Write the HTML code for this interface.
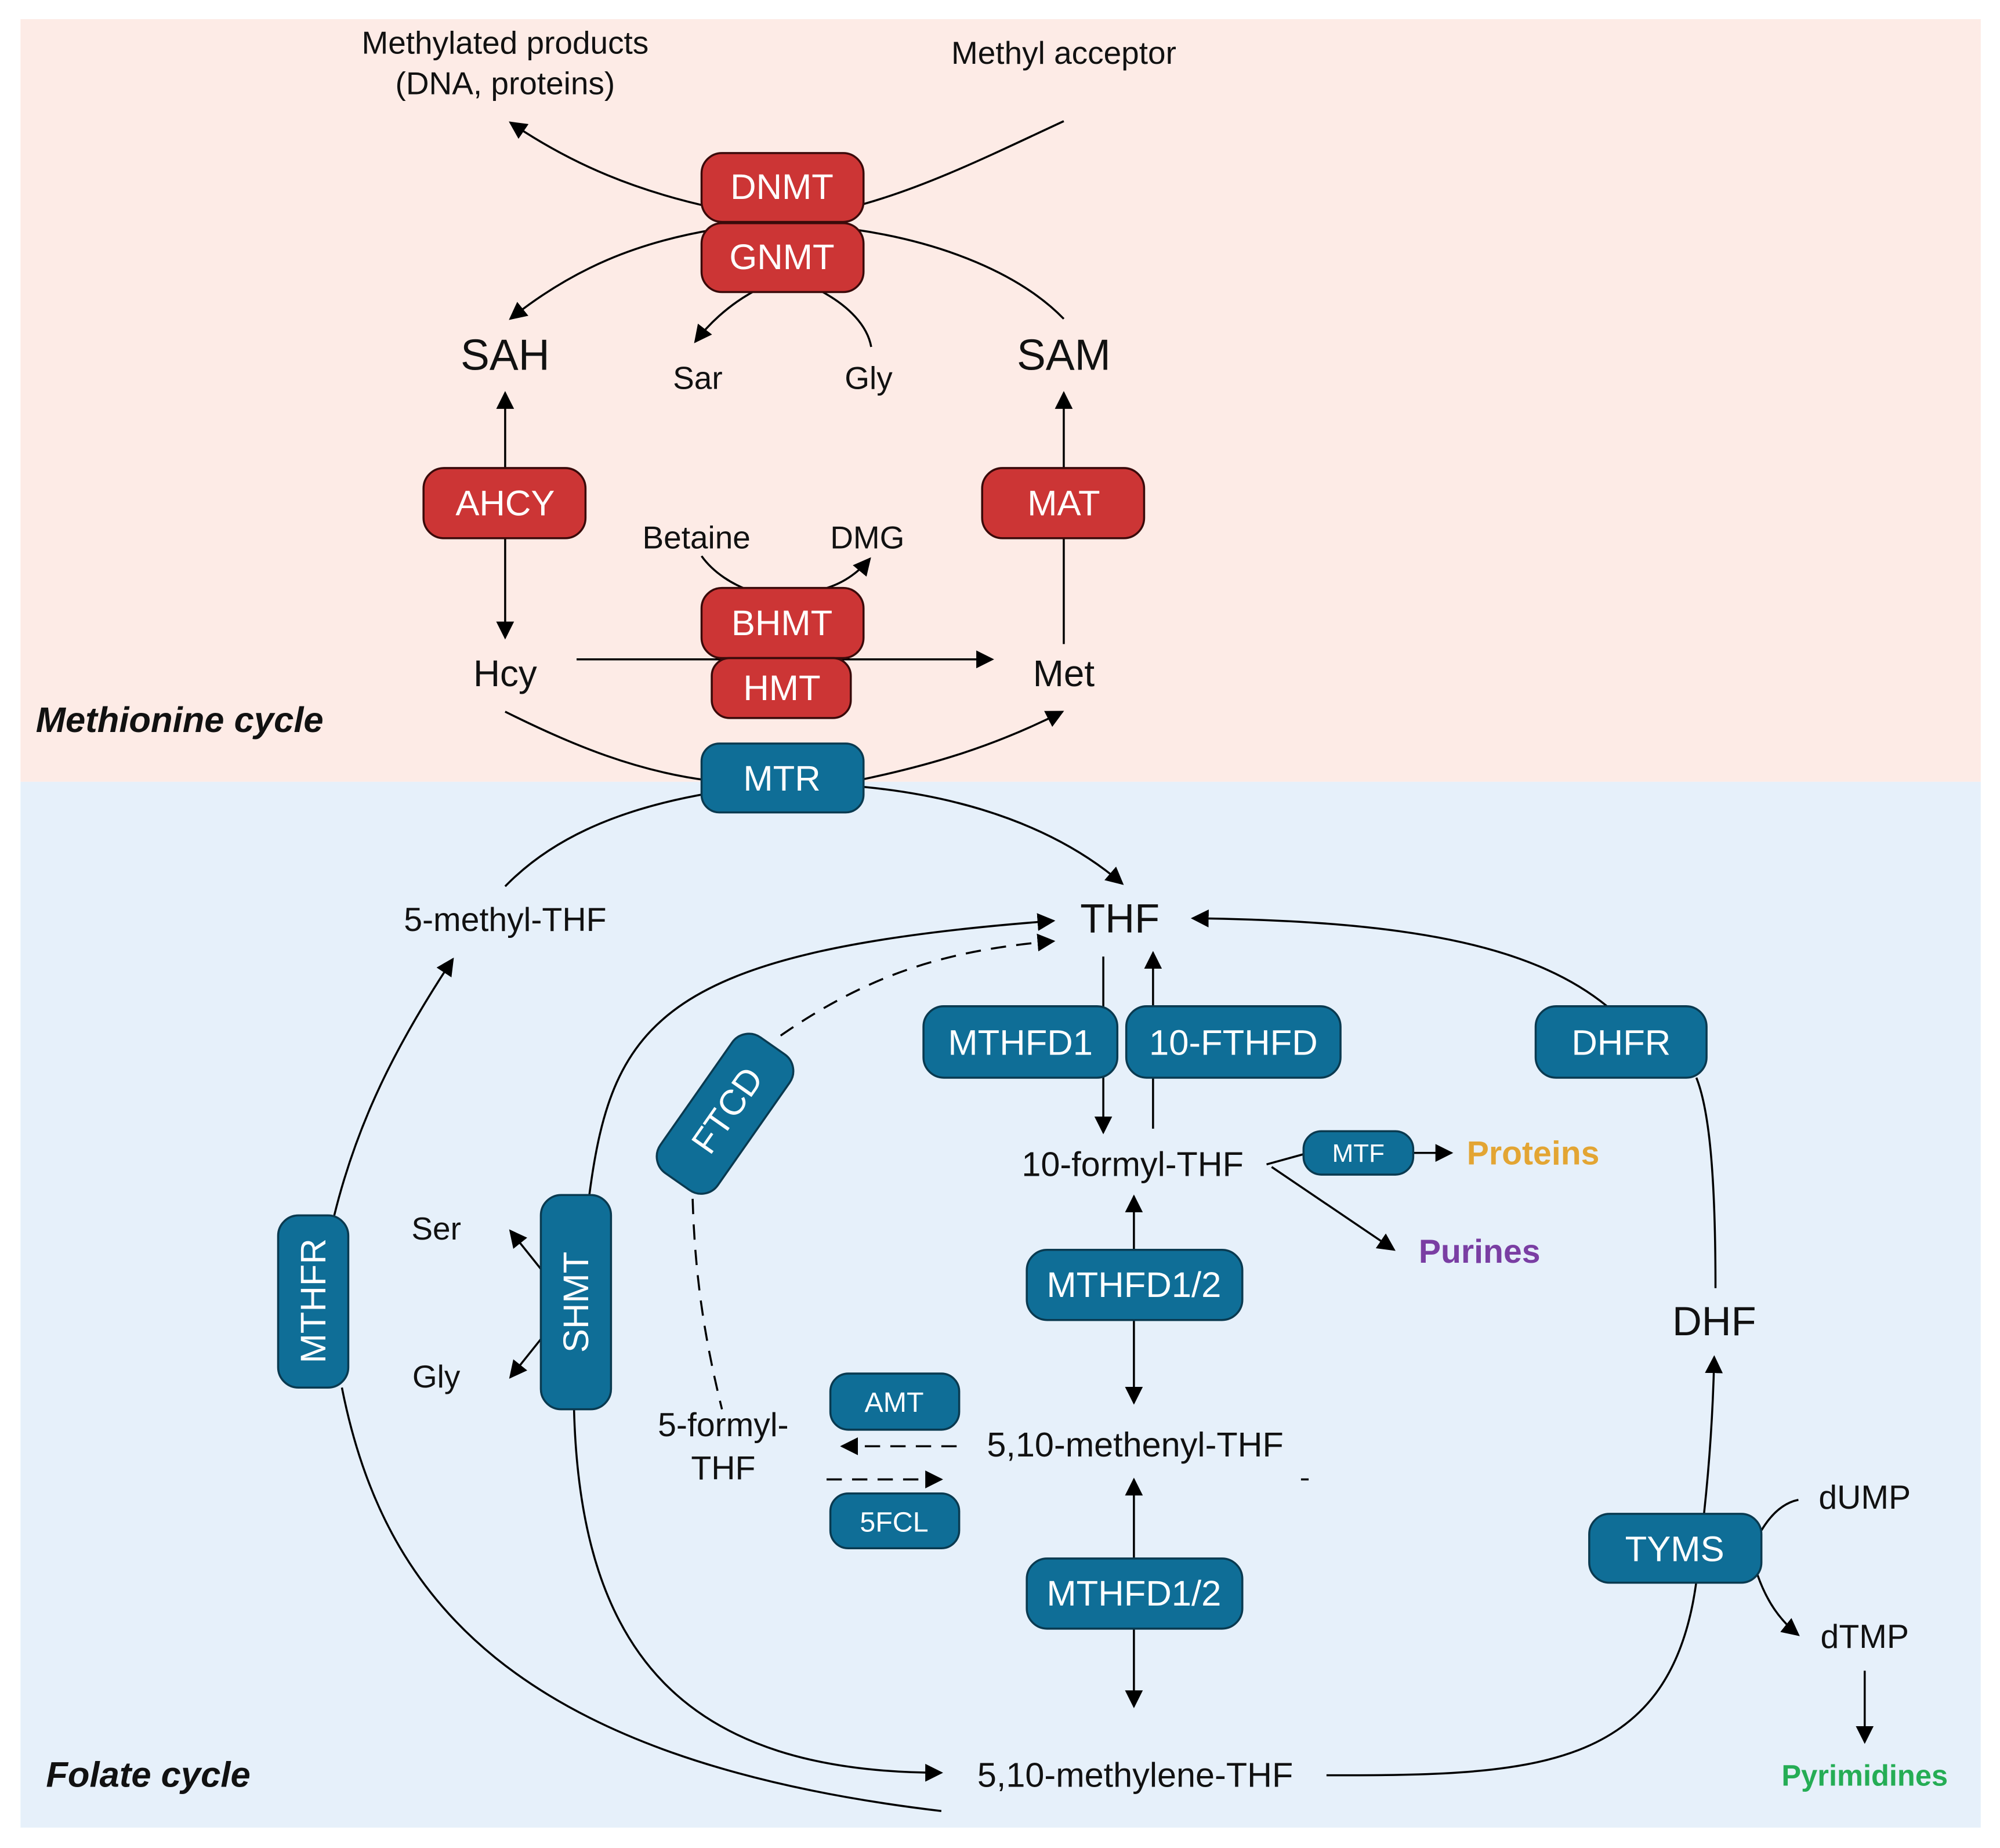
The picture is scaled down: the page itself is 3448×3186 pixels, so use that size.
<!DOCTYPE html>
<html><head><meta charset="utf-8"><style>
html,body{margin:0;padding:0;background:#fff;}
svg{display:block;}
text{font-family:"Liberation Sans",Arial,sans-serif;}
</style></head><body>
<svg width="3448" height="3186" viewBox="0 0 1568 1449" xmlns="http://www.w3.org/2000/svg">
<defs>
<marker id="a" viewBox="0 0 10 10" refX="9" refY="5" markerWidth="5.5" markerHeight="5.5" orient="auto" markerUnits="userSpaceOnUse"><path d="M0,0 L10,5 L0,10 z" fill="#000"/></marker>
<marker id="b" viewBox="0 0 10 10" refX="9" refY="5" markerWidth="14" markerHeight="14" orient="auto" markerUnits="userSpaceOnUse"><path d="M0,0 L10,5 L0,10 z" fill="#000"/></marker>
</defs>
<rect x="0" y="0" width="1568" height="1449" fill="#fff"/>
<rect x="16" y="15" width="1537" height="598" fill="#fdebe6"/>
<rect x="16" y="613" width="1537" height="820" fill="#e6f0fa"/>

<g fill="none" stroke="#000" stroke-width="1.6">
<!-- methionine cycle -->
<path d="M560,163 C500,150 450,130 400,96" marker-end="url(#b)"/>
<path d="M677,160 C730,145 780,120 834,95"/>
<path d="M560,180 C500,190 450,210 400,250" marker-end="url(#b)"/>
<path d="M670,180 C740,190 800,215 834,250"/>
<path d="M590,229 C570,240 555,255 545,268" marker-end="url(#b)"/>
<path d="M645,229 C665,240 680,255 683,272"/>
<line x1="396" y1="367" x2="396" y2="308" marker-end="url(#b)"/>
<line x1="396" y1="422" x2="396" y2="500" marker-end="url(#b)"/>
<line x1="834" y1="367" x2="834" y2="308" marker-end="url(#b)"/>
<line x1="834" y1="422" x2="834" y2="505"/>
<line x1="452" y1="517" x2="778" y2="517" marker-end="url(#b)"/>
<path d="M550,436 C560,450 575,458 585,462"/>
<path d="M645,462 C660,458 672,450 682,438" marker-end="url(#b)"/>
<path d="M396,558 C450,585 500,605 556,612"/>
<path d="M672,612 C730,600 780,585 833,558" marker-end="url(#b)"/>
<!-- folate -->
<path d="M556,622 C480,635 430,660 396,695"/>
<path d="M677,617 C760,625 830,650 880,693" marker-end="url(#b)"/>
<path d="M262,953 C280,880 310,820 355,752" marker-end="url(#b)"/>
<path d="M268,1088 C300,1250 400,1380 738,1420"/>
<path d="M462,937 C480,800 520,745 826,722" marker-end="url(#b)"/>
<path d="M450,1105 C455,1300 540,1390 738,1390" marker-end="url(#b)"/>
<path d="M1040,1392 C1200,1392 1310,1390 1330,1240"/>
<path d="M1336,1187 C1340,1150 1343,1110 1344,1064" marker-end="url(#b)"/>
<path d="M1345,1010 C1345,920 1340,870 1330,845"/>
<path d="M1260,789 C1200,740 1100,722 935,720" marker-end="url(#b)"/>
<line x1="865" y1="750" x2="865" y2="888" marker-end="url(#b)"/>
<line x1="904" y1="885" x2="904" y2="747" marker-end="url(#b)"/>
<line x1="889" y1="980" x2="889" y2="938" marker-end="url(#b)"/>
<line x1="889" y1="1035" x2="889" y2="1100" marker-end="url(#b)"/>
<line x1="889" y1="1222" x2="889" y2="1160" marker-end="url(#b)"/>
<line x1="889" y1="1277" x2="889" y2="1338" marker-end="url(#b)"/>
<path d="M993,913 L1022,905"/>
<line x1="1108" y1="904" x2="1138" y2="904" marker-end="url(#b)"/>
<path d="M997,915 L1093,980" marker-end="url(#b)"/>
<path d="M424,995 L400,965" marker-end="url(#b)"/>
<path d="M424,1050 L400,1080" marker-end="url(#b)"/>
<path d="M1381,1200 C1390,1185 1400,1178 1410,1176"/>
<path d="M1378,1235 C1385,1255 1395,1270 1410,1282" marker-end="url(#b)"/>
<line x1="1462" y1="1310" x2="1462" y2="1366" marker-end="url(#b)"/>
<g stroke-dasharray="12,8">
<path d="M612,812 C680,765 740,745 826,738" marker-end="url(#b)"/>
<path d="M543,940 C545,1010 555,1060 566,1105"/>
<line x1="750" y1="1134" x2="660" y2="1134" marker-end="url(#b)"/>
<line x1="648" y1="1160" x2="738" y2="1160" marker-end="url(#b)"/>
</g>
<line x1="1020" y1="1160" x2="1026" y2="1160"/>
</g>

<!-- red boxes -->
<g fill="#cc3535" stroke="#3a0a0a" stroke-width="1.6">
<rect x="550" y="120" width="127" height="54" rx="16"/>
<rect x="550" y="175" width="127" height="54" rx="16"/>
<rect x="332" y="367" width="127" height="55" rx="16"/>
<rect x="770" y="367" width="127" height="55" rx="16"/>
<rect x="550" y="461" width="127" height="55" rx="16"/>
<rect x="558" y="516" width="109" height="47" rx="14"/>
</g>
<!-- blue boxes -->
<g fill="#0f6e97" stroke="#0a3a50" stroke-width="1.6">
<rect x="550" y="583" width="127" height="54" rx="14"/>
<rect x="724" y="789" width="152" height="56" rx="16"/>
<rect x="883" y="789" width="168" height="56" rx="16"/>
<rect x="1204" y="789" width="134" height="56" rx="16"/>
<rect x="1022" y="887" width="86" height="34" rx="14"/>
<rect x="805" y="980" width="169" height="55" rx="16"/>
<rect x="651" y="1077" width="101" height="44" rx="14"/>
<rect x="651" y="1171" width="101" height="43" rx="14"/>
<rect x="805" y="1222" width="169" height="55" rx="16"/>
<rect x="1246" y="1187" width="135" height="54" rx="16"/>
<rect x="218" y="953" width="55" height="135" rx="16"/>
<rect x="424" y="937" width="55" height="168" rx="16"/>
<rect x="503" y="846" width="130" height="55" rx="16" transform="rotate(-55 568 873)"/>
</g>

<g fill="#fff" text-anchor="middle" font-size="28">
<text x="613" y="156">DNMT</text>
<text x="613" y="211">GNMT</text>
<text x="396" y="404">AHCY</text>
<text x="834" y="404">MAT</text>
<text x="613" y="498">BHMT</text>
<text x="613" y="549">HMT</text>
<text x="613" y="620">MTR</text>
<text x="800" y="827">MTHFD1</text>
<text x="967" y="827">10-FTHFD</text>
<text x="1271" y="827">DHFR</text>
<text x="889" y="1017">MTHFD1/2</text>
<text x="889" y="1259">MTHFD1/2</text>
<text x="1313" y="1224">TYMS</text>
<text font-size="20" x="1065" y="911">MTF</text>
<text font-size="22" x="701" y="1107">AMT</text>
<text font-size="22" x="701" y="1201">5FCL</text>
<text transform="translate(255 1020) rotate(-90)">MTHFR</text>
<text transform="translate(461 1021) rotate(-90)">SHMT</text>
<text transform="translate(578 876) rotate(-55)">FTCD</text>
</g>

<g fill="#111" text-anchor="middle">
<text x="396" y="42" font-size="25">Methylated products</text>
<text x="396" y="74" font-size="25">(DNA, proteins)</text>
<text x="834" y="50" font-size="25">Methyl acceptor</text>
<text x="396" y="290" font-size="34">SAH</text>
<text x="834" y="290" font-size="34">SAM</text>
<text x="547" y="305" font-size="25">Sar</text>
<text x="681" y="305" font-size="25">Gly</text>
<text x="546" y="430" font-size="25">Betaine</text>
<text x="680" y="430" font-size="25">DMG</text>
<text x="396" y="538" font-size="29">Hcy</text>
<text x="834" y="538" font-size="29">Met</text>
<text x="396" y="730" font-size="26">5-methyl-THF</text>
<text x="878" y="731" font-size="32">THF</text>
<text x="888" y="922" font-size="27">10-formyl-THF</text>
<text x="342" y="972" font-size="25">Ser</text>
<text x="342" y="1088" font-size="25">Gly</text>
<text x="1344" y="1047" font-size="32">DHF</text>
<text x="567" y="1126" font-size="26">5-formyl-</text>
<text x="567" y="1160" font-size="26">THF</text>
<text x="890" y="1142" font-size="27">5,10-methenyl-THF</text>
<text x="1462" y="1183" font-size="26">dUMP</text>
<text x="1462" y="1292" font-size="26">dTMP</text>
<text x="890" y="1401" font-size="27">5,10-methylene-THF</text>
<text x="1202" y="913" font-size="26" font-weight="bold" fill="#e3a533">Proteins</text>
<text x="1160" y="990" font-size="26" font-weight="bold" fill="#7a3ea3">Purines</text>
<text x="1462" y="1400" font-size="23" font-weight="bold" fill="#25ad55">Pyrimidines</text>
</g>
<text x="28" y="574" font-size="28" font-weight="bold" font-style="italic" fill="#111">Methionine cycle</text>
<text x="36" y="1401" font-size="28" font-weight="bold" font-style="italic" fill="#111">Folate cycle</text>
</svg>
</body></html>
